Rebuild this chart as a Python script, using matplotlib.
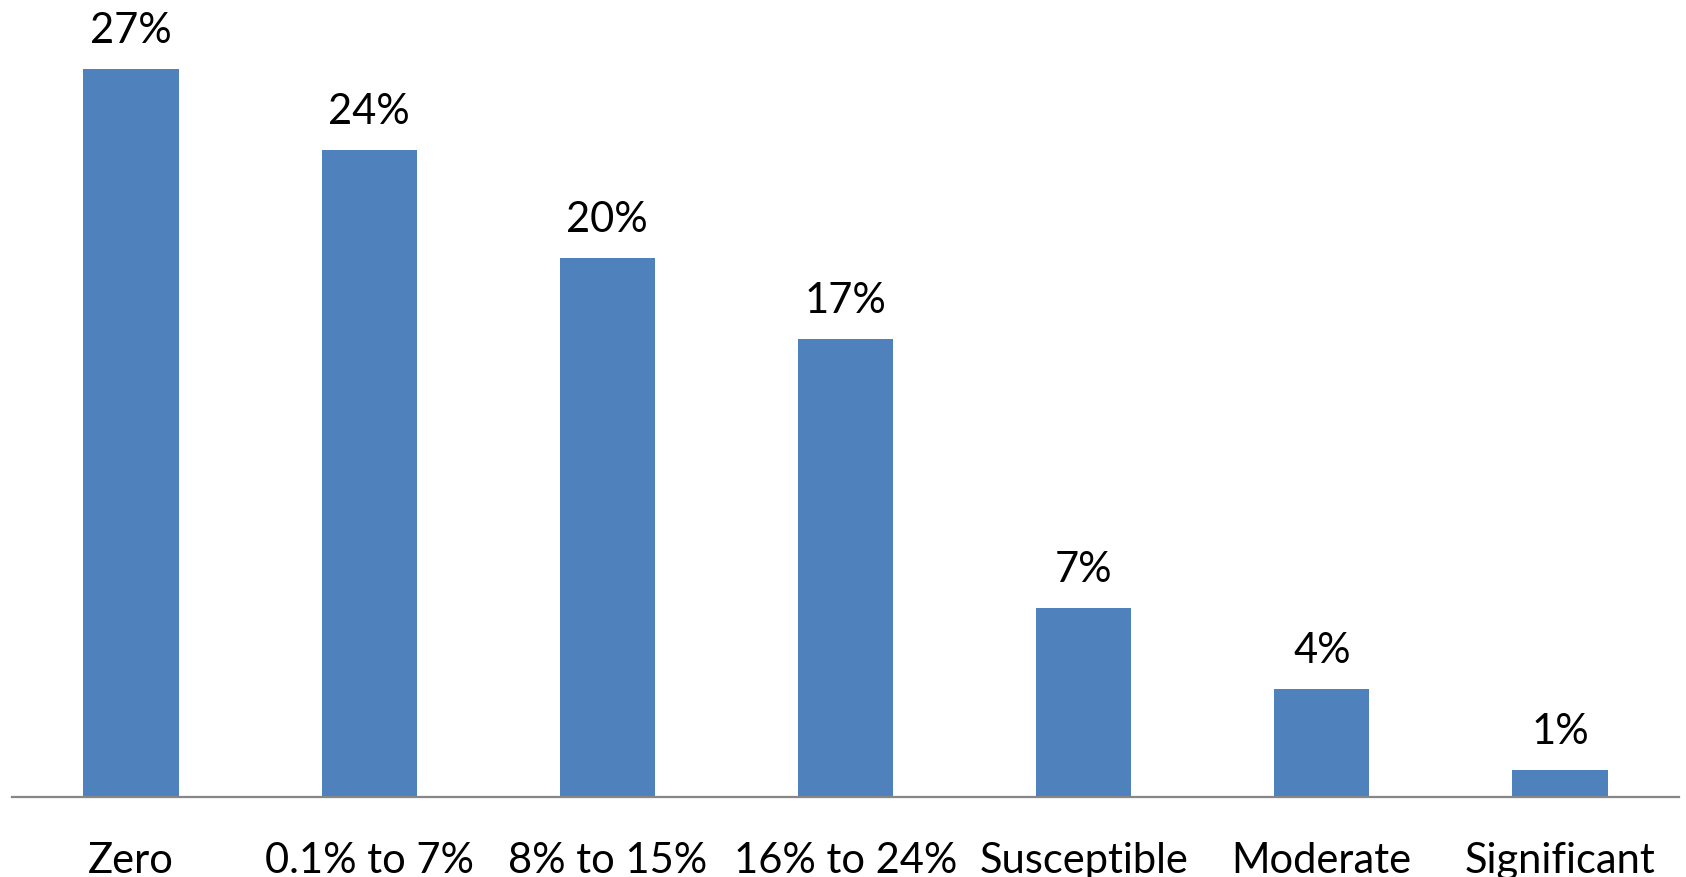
import matplotlib.pyplot as plt

# data
categories = ['Zero', '0.1% to 7%', '8% to 15%', '16% to 24%',
              'Susceptible', 'Moderate', 'Significant']
shares = [27, 24, 20, 17, 7, 4, 1]
labels = [f'{v}%' for v in shares]

plt.rcParams['font.family'] = ['Lato', 'DejaVu Sans']

fig = plt.figure(figsize=(16.86, 8.78), dpi=100)
ax = fig.add_axes([12 / 1686, 80 / 878, 1667 / 1686, 798 / 878])

x = range(len(categories))
bars = ax.bar(x, shares, width=0.40, color='#4F81BD')

# value labels above bars
for b, txt in zip(bars, labels):
    ax.annotate(txt, (b.get_x() + b.get_width() / 2, b.get_height()),
                xytext=(0, 19.5), textcoords='offset points',
                ha='center', va='baseline', fontsize=30, color='black')

ax.set_xlim(-0.5, len(categories) - 0.5)
ax.set_ylim(0, 29.6)
ax.set_xticks(list(x))
ax.set_xticklabels(categories, fontsize=30)
ax.tick_params(axis='x', length=0, pad=32)
ax.set_yticks([])

for side in ['top', 'right', 'left']:
    ax.spines[side].set_visible(False)
ax.spines['bottom'].set_color('#868686')
ax.spines['bottom'].set_linewidth(1.6)

fig.savefig('out.png', dpi=100)
